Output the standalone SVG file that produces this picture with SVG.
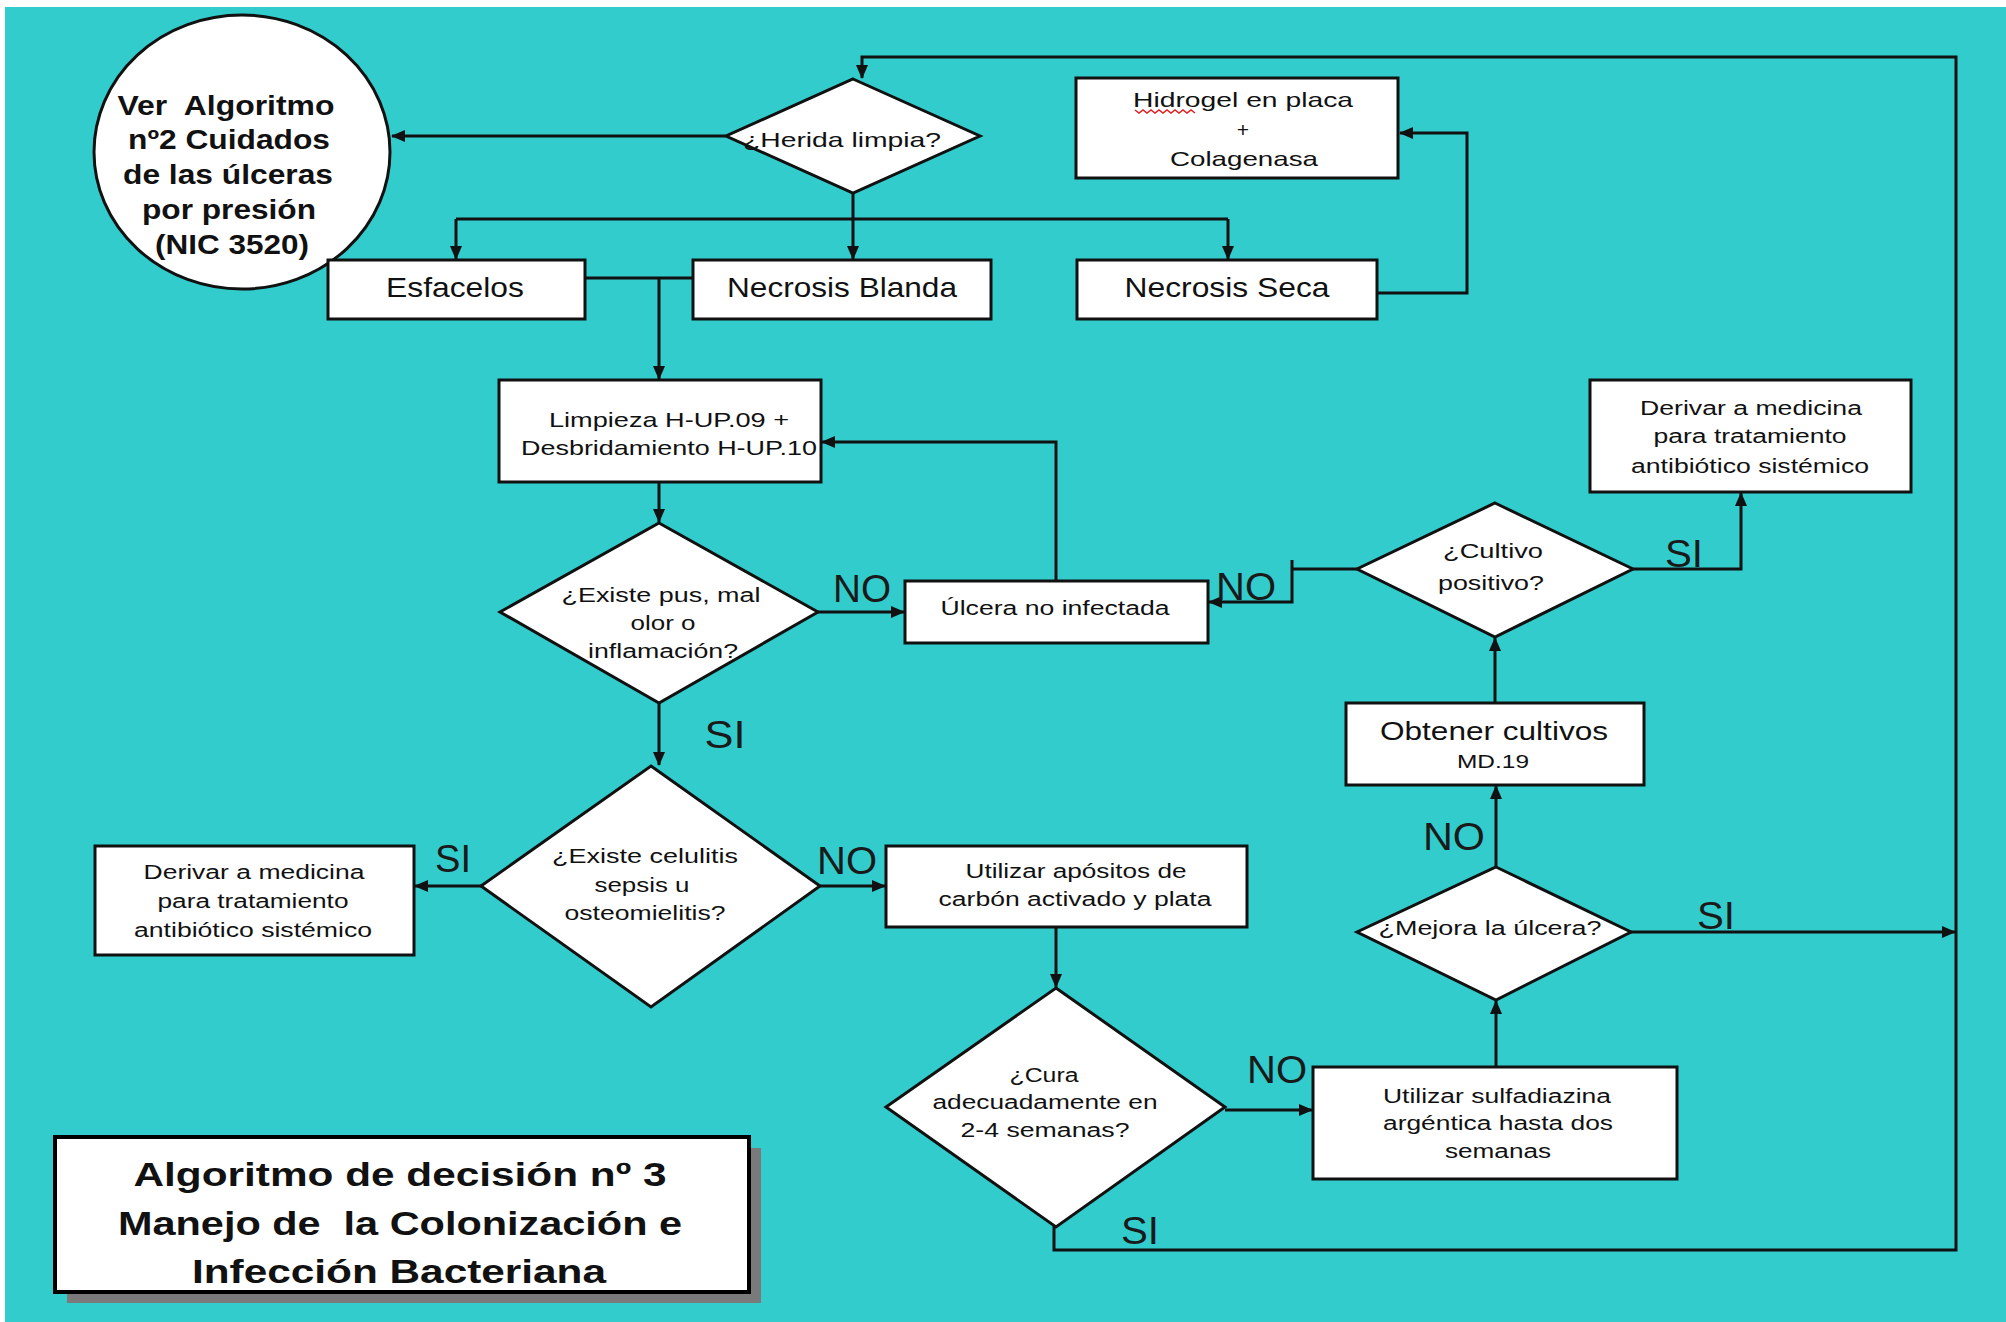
<svg xmlns="http://www.w3.org/2000/svg" width="2006" height="1322" viewBox="0 0 2006 1322">
<style>
.n{fill:#fff;stroke:#111;stroke-width:3}
.c{fill:none;stroke:#111;stroke-width:3}
text{font-family:"Liberation Sans",Arial,sans-serif;fill:#111;text-anchor:middle}
.s{font-size:20px}
.m{font-size:28px}
.b{font-size:27px;font-weight:bold}
.t{font-size:34px;font-weight:bold}
.l{font-size:38px;fill:#1a1a1a}
</style>
<defs>
<marker id="a" markerUnits="userSpaceOnUse" markerWidth="14" markerHeight="12" refX="13" refY="6" orient="auto">
<path d="M0,0 L14,6 L0,12 z" fill="#111"/>
</marker>
</defs>
<rect x="0" y="0" width="2006" height="1322" fill="#fff"/>
<rect x="5" y="7" width="2001" height="1315" fill="#33CCCC"/>

<g id="connectors">
<path class="c" d="M1054,1226 V1250 H1956 V57 H862 V78" marker-end="url(#a)"/>
<path class="c" d="M1631,932 H1955" marker-end="url(#a)"/>
<path class="c" d="M726,136 H392" marker-end="url(#a)"/>
<path class="c" d="M853,193 V259" marker-end="url(#a)"/>
<path class="c" d="M456,219 H1228"/>
<path class="c" d="M456,219 V259" marker-end="url(#a)"/>
<path class="c" d="M1228,219 V259" marker-end="url(#a)"/>
<path class="c" d="M1372,293 H1467 V133 H1400" marker-end="url(#a)"/>
<path class="c" d="M585,278 H693"/>
<path class="c" d="M659,278 V379" marker-end="url(#a)"/>
<path class="c" d="M659,483 V522" marker-end="url(#a)"/>
<path class="c" d="M818,612 H904" marker-end="url(#a)"/>
<path class="c" d="M1056,581 V442 H822" marker-end="url(#a)"/>
<path class="c" d="M1357,569 H1292"/>
<path class="c" d="M1292,560 V602 H1209" marker-end="url(#a)"/>
<path class="c" d="M1633,569 H1741 V493" marker-end="url(#a)"/>
<path class="c" d="M1495,703 V638" marker-end="url(#a)"/>
<path class="c" d="M1496,867 V786" marker-end="url(#a)"/>
<path class="c" d="M1496,1067 V1001" marker-end="url(#a)"/>
<path class="c" d="M1225,1110 H1312" marker-end="url(#a)"/>
<path class="c" d="M1056,927 V987" marker-end="url(#a)"/>
<path class="c" d="M820,886 H885" marker-end="url(#a)"/>
<path class="c" d="M481,886 H415" marker-end="url(#a)"/>
<path class="c" d="M659,703 V765" marker-end="url(#a)"/>
</g>

<g id="labels">
<text class="l" x="862" y="602" textLength="58" lengthAdjust="spacingAndGlyphs">NO</text>
<text class="l" x="725" y="748" textLength="41" lengthAdjust="spacingAndGlyphs">SI</text>
<text class="l" x="1684" y="567" textLength="38" lengthAdjust="spacingAndGlyphs">SI</text>
<text class="l" x="1246" y="600" textLength="60" lengthAdjust="spacingAndGlyphs">NO</text>
<text class="l" x="453" y="872" textLength="36" lengthAdjust="spacingAndGlyphs">SI</text>
<text class="l" x="847" y="874" textLength="60" lengthAdjust="spacingAndGlyphs">NO</text>
<text class="l" x="1277" y="1083" textLength="60" lengthAdjust="spacingAndGlyphs">NO</text>
<text class="l" x="1454" y="850" textLength="62" lengthAdjust="spacingAndGlyphs">NO</text>
<text class="l" x="1716" y="929" textLength="38" lengthAdjust="spacingAndGlyphs">SI</text>
<text class="l" x="1140" y="1244" textLength="38" lengthAdjust="spacingAndGlyphs">SI</text>
</g>

<g id="ver-algoritmo">
<ellipse class="n" cx="242" cy="152" rx="148" ry="137"/>
<text class="b" x="226" y="115" textLength="217" lengthAdjust="spacingAndGlyphs" xml:space="preserve">Ver  Algoritmo</text>
<text class="b" x="229" y="149" textLength="202" lengthAdjust="spacingAndGlyphs">nº2 Cuidados</text>
<text class="b" x="228" y="184" textLength="210" lengthAdjust="spacingAndGlyphs">de las úlceras</text>
<text class="b" x="229" y="219" textLength="174" lengthAdjust="spacingAndGlyphs">por presión</text>
<text class="b" x="232" y="254" textLength="154" lengthAdjust="spacingAndGlyphs">(NIC 3520)</text>
</g>

<g id="herida-limpia">
<polygon class="n" points="853,79 980,136 853,193 726,136"/>
<text class="s" x="842" y="147" style="font-size:21px" textLength="198" lengthAdjust="spacingAndGlyphs">¿Herida limpia?</text>
</g>

<g id="esfacelos">
<rect class="n" x="328" y="260" width="257" height="59"/>
<text class="m" x="455" y="297" textLength="138" lengthAdjust="spacingAndGlyphs">Esfacelos</text>
</g>

<g id="necrosis-blanda">
<rect class="n" x="693" y="260" width="298" height="59"/>
<text class="m" x="842" y="297" textLength="230" lengthAdjust="spacingAndGlyphs">Necrosis Blanda</text>
</g>

<g id="necrosis-seca">
<rect class="n" x="1077" y="260" width="300" height="59"/>
<text class="m" x="1227" y="297" textLength="205" lengthAdjust="spacingAndGlyphs">Necrosis Seca</text>
</g>

<g id="hidrogel">
<rect class="n" x="1076" y="78" width="322" height="100"/>
<text class="s" x="1243" y="107" style="font-size:21px" textLength="220" lengthAdjust="spacingAndGlyphs">Hidrogel en placa</text>
<polyline points="1135,110 1139,113 1143,110 1147,113 1151,110 1155,113 1159,110 1163,113 1167,110 1171,113 1175,110 1179,113 1183,110 1187,113 1191,110 1195,113" fill="none" stroke="#e02020" stroke-width="1.5"/>
<text class="s" x="1243" y="137" style="font-size:21px">+</text>
<text class="s" x="1244" y="166" style="font-size:21px" textLength="148" lengthAdjust="spacingAndGlyphs">Colagenasa</text>
</g>

<g id="limpieza">
<rect class="n" x="499" y="380" width="322" height="102"/>
<text class="s" x="669" y="427" style="font-size:21px" textLength="240" lengthAdjust="spacingAndGlyphs">Limpieza H-UP.09 +</text>
<text class="s" x="669" y="455" style="font-size:21px" textLength="296" lengthAdjust="spacingAndGlyphs">Desbridamiento H-UP.10</text>
</g>

<g id="existe-pus">
<polygon class="n" points="659,523 818,612 659,703 500,612"/>
<text class="s" x="661" y="602" textLength="199" lengthAdjust="spacingAndGlyphs">¿Existe pus, mal</text>
<text class="s" x="663" y="630" textLength="65" lengthAdjust="spacingAndGlyphs">olor o</text>
<text class="s" x="663" y="658" textLength="150" lengthAdjust="spacingAndGlyphs">inflamación?</text>
</g>

<g id="ulcera-no-infectada">
<rect class="n" x="905" y="581" width="303" height="62"/>
<text class="s" x="1055" y="615" textLength="229" lengthAdjust="spacingAndGlyphs">Úlcera no infectada</text>
</g>

<g id="derivar-derecha">
<rect class="n" x="1590" y="380" width="321" height="112"/>
<text class="s" x="1751" y="415" textLength="222" lengthAdjust="spacingAndGlyphs">Derivar a medicina</text>
<text class="s" x="1750" y="443" textLength="193" lengthAdjust="spacingAndGlyphs">para tratamiento</text>
<text class="s" x="1750" y="473" textLength="238" lengthAdjust="spacingAndGlyphs">antibiótico sistémico</text>
</g>

<g id="cultivo-positivo">
<polygon class="n" points="1495,503 1633,569 1495,637 1357,569"/>
<text class="s" x="1493" y="558" textLength="100" lengthAdjust="spacingAndGlyphs">¿Cultivo</text>
<text class="s" x="1491" y="590" textLength="106" lengthAdjust="spacingAndGlyphs">positivo?</text>
</g>

<g id="obtener-cultivos">
<rect class="n" x="1346" y="703" width="298" height="82"/>
<text class="s" x="1494" y="740" style="font-size:26px" textLength="228" lengthAdjust="spacingAndGlyphs">Obtener cultivos</text>
<text class="s" x="1493" y="768" style="font-size:19px" textLength="72" lengthAdjust="spacingAndGlyphs">MD.19</text>
</g>

<g id="celulitis">
<polygon class="n" points="651,766 820,886 651,1007 481,886"/>
<text class="s" x="645" y="863" textLength="186" lengthAdjust="spacingAndGlyphs">¿Existe celulitis</text>
<text class="s" x="642" y="892" textLength="95" lengthAdjust="spacingAndGlyphs">sepsis u</text>
<text class="s" x="645" y="920" textLength="161" lengthAdjust="spacingAndGlyphs">osteomielitis?</text>
</g>

<g id="derivar-izquierda">
<rect class="n" x="95" y="846" width="319" height="109"/>
<text class="s" x="254" y="879" textLength="221" lengthAdjust="spacingAndGlyphs">Derivar a medicina</text>
<text class="s" x="253" y="908" textLength="191" lengthAdjust="spacingAndGlyphs">para tratamiento</text>
<text class="s" x="253" y="937" textLength="238" lengthAdjust="spacingAndGlyphs">antibiótico sistémico</text>
</g>

<g id="apositos">
<rect class="n" x="886" y="846" width="361" height="81"/>
<text class="s" x="1076" y="878" textLength="221" lengthAdjust="spacingAndGlyphs">Utilizar apósitos de</text>
<text class="s" x="1075" y="906" textLength="273" lengthAdjust="spacingAndGlyphs">carbón activado y plata</text>
</g>

<g id="cura">
<polygon class="n" points="1056,988 1225,1107 1056,1227 886,1107"/>
<text class="s" x="1044" y="1082" textLength="69" lengthAdjust="spacingAndGlyphs">¿Cura</text>
<text class="s" x="1045" y="1109" textLength="225" lengthAdjust="spacingAndGlyphs">adecuadamente en</text>
<text class="s" x="1045" y="1137" textLength="169" lengthAdjust="spacingAndGlyphs">2-4 semanas?</text>
</g>

<g id="sulfadiazina">
<rect class="n" x="1313" y="1067" width="364" height="112"/>
<text class="s" x="1497" y="1103" textLength="228" lengthAdjust="spacingAndGlyphs">Utilizar sulfadiazina</text>
<text class="s" x="1498" y="1130" textLength="230" lengthAdjust="spacingAndGlyphs">argéntica hasta dos</text>
<text class="s" x="1498" y="1158" textLength="106" lengthAdjust="spacingAndGlyphs">semanas</text>
</g>

<g id="mejora">
<polygon class="n" points="1496,867 1631,932 1496,1000 1357,932"/>
<text class="s" x="1490" y="935" textLength="223" lengthAdjust="spacingAndGlyphs">¿Mejora la úlcera?</text>
</g>

<g id="titulo">
<rect x="67" y="1148" width="694" height="155" fill="#7a7a7a"/>
<rect x="55" y="1137" width="694" height="155" fill="#fff" stroke="#000" stroke-width="4"/>
<text class="t" x="400" y="1186" textLength="533" lengthAdjust="spacingAndGlyphs">Algoritmo de decisión nº 3</text>
<text class="t" x="400" y="1235" textLength="564" lengthAdjust="spacingAndGlyphs" xml:space="preserve">Manejo de  la Colonización e</text>
<text class="t" x="399" y="1283" textLength="414" lengthAdjust="spacingAndGlyphs">Infección Bacteriana</text>
</g>
</svg>
